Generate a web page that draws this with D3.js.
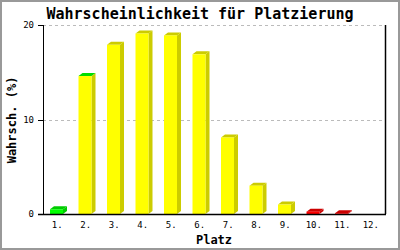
<!DOCTYPE html>
<html>
<head>
<meta charset="utf-8">
<script src="https://cdn.jsdelivr.net/npm/d3@7"></script>
<style>
  body { margin: 0; background: #fff; }
  svg text { font-family: "DejaVu Sans Mono", "Liberation Mono", monospace; }
</style>
</head>
<body>
<div id="chart"></div>
<script>
/* Wahrscheinlichkeit für Platzierung - 3D-ish bar chart */

const places = ["1.", "2.", "3.", "4.", "5.", "6.", "7.", "8.", "9.", "10.", "11.", "12."];
const probs = [0.5, 14.6, 17.9, 19.1, 18.9, 16.9, 8.1, 3.0, 1.0, 0.25, 0.08, 0];
const frontColors = ["#00ff00", "#ffff00", "#ffff00", "#ffff00", "#ffff00", "#ffff00", "#ffff00", "#ffff00", "#ffff00", "#ff0000", "#ff0000", "#ff0000"];
const topColors = ["#00cc00", "#00dd00", "#cccc00", "#cccc00", "#cccc00", "#cccc00", "#cccc00", "#cccc00", "#cccc00", "#cc0000", "#cc0000", "#cc0000"];
const sideColors = ["#00cc00", "#cccc00", "#cccc00", "#cccc00", "#cccc00", "#cccc00", "#cccc00", "#cccc00", "#cccc00", "#cc0000", "#cc0000", "#cc0000"];
const yTicks = [0, 10, 20];

const width = 400, height = 250,
      margin = ({ top: 25, right: 15, bottom: 36, left: 43 });

let svg = d3.select("#chart")
    .append("svg")
    .attr("width", width)
    .attr("height", height);

svg.append("rect") // grey frame
    .attr("x", 1).attr("y", 1)
    .attr("width", width - 2).attr("height", height - 2)
    .attr("fill", "#fff")
    .attr("stroke", "#999")
    .attr("stroke-width", 2);

let x = d3.scaleBand()
    .domain(places)
    .range([margin.left, width - margin.right]);

let y = d3.scaleLinear()
    .domain([0, 20])
    .range([height - margin.bottom, margin.top]);

// dashed grid lines
svg.append("g")
    .selectAll("line")
    .data(yTicks.filter(t => t > 0))
    .join("line")
    .attr("x1", margin.left).attr("x2", width - margin.right)
    .attr("y1", d => Math.round(y(d)) + 0.5).attr("y2", d => Math.round(y(d)) + 0.5)
    .attr("stroke", "#bbb")
    .attr("stroke-dasharray", "3,3");

// bars with fake depth
const dx = 4, dy = 3, barW = 13, off = 7;
let bar = svg.selectAll(".bar")
    .data(places.map((p, i) => ({ p, v: probs[i], i })))
    .join("g")
    .attr("class", "bar")
    .filter(d => d.v > 0);

bar.append("polygon") // side face
    .attr("fill", d => sideColors[d.i])
    .attr("points", d => {
        const x0 = x(d.p) + off + barW, y0 = y(d.v), yb = y(0);
        return [[x0, y0], [x0 + dx, y0 - dy], [x0 + dx, yb - dy], [x0, yb]].join(" ");
    });

bar.append("polygon") // top face
    .attr("fill", d => topColors[d.i])
    .attr("points", d => {
        const x0 = x(d.p) + off, y0 = y(d.v);
        return [[x0, y0], [x0 + dx, y0 - dy], [x0 + barW + dx, y0 - dy], [x0 + barW, y0]].join(" ");
    });

bar.append("rect") // front face
    .attr("fill", d => frontColors[d.i])
    .attr("x", d => x(d.p) + off)
    .attr("width", barW)
    .attr("y", d => y(d.v))
    .attr("height", d => y(0) - y(d.v));

// y axis
let yAxis = svg.append("g")
    .attr("transform", `translate(${margin.left},0)`)
    .call(d3.axisLeft(y).tickValues(yTicks).tickSize(5).tickPadding(4).tickFormat(d3.format("d")));
yAxis.selectAll("text").style("font-size", "9px").attr("fill", "#000");
yAxis.select(".domain").attr("d", `M0.5,${y(20)}V${y(0)}`);
yAxis.attr("shape-rendering", "crispEdges");

// right border line
svg.append("line")
    .attr("x1", width - margin.right + 0.5).attr("x2", width - margin.right + 0.5)
    .attr("y1", y(20)).attr("y2", y(0))
    .attr("stroke", "#000")
    .attr("stroke-width", 1.5);

// x axis
let xAxis = svg.append("g")
    .attr("transform", `translate(0,${y(0)})`)
    .call(d3.axisBottom(x).tickSize(0).tickPadding(8));
xAxis.select(".domain").attr("d", `M${margin.left - 5},0.5H${width - margin.right + 1}`).attr("stroke-width", 1.5);
xAxis.selectAll("text").style("font-size", "9px").attr("fill", "#000");

// title
svg.append("text")
    .attr("x", 200)
    .attr("y", 19)
    .attr("text-anchor", "middle")
    .style("font-size", "15px")
    .style("font-weight", "bold")
    .text("Wahrscheinlichkeit für Platzierung");

// axis titles
svg.append("text")
    .attr("x", 214)
    .attr("y", 244)
    .attr("text-anchor", "middle")
    .style("font-size", "12px")
    .style("font-weight", "bold")
    .text("Platz");

svg.append("text")
    .attr("transform", "translate(16,120) rotate(-90)")
    .attr("text-anchor", "middle")
    .style("font-size", "12px")
    .style("font-weight", "bold")
    .text("Wahrsch. (%)");
</script>
</body>
</html>
